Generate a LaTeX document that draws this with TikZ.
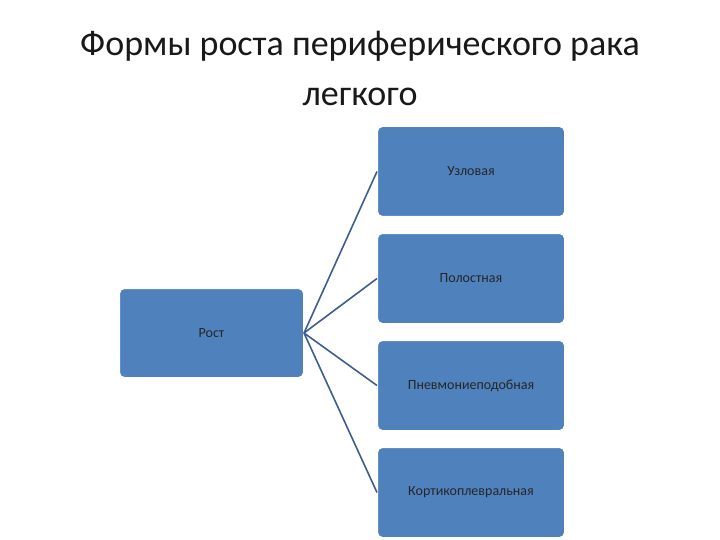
\documentclass[tikz,border=0pt]{standalone}
\usepackage{fontspec}
\setmainfont{Carlito}
\definecolor{boxblue}{HTML}{4F81BD}
\definecolor{linec}{HTML}{3D5E8E}
\begin{document}
\begin{tikzpicture}[x=1pt,y=-1pt,
  bx/.style={draw=white,line width=1pt,fill=boxblue,rounded corners=5pt,inner sep=0pt,font=\fontsize{14}{16}\selectfont,text=black!85},
  conn/.style={draw=linec,line width=1.6pt}]
\useasboundingbox[fill=white] (0,0) rectangle (720,540);
\node[font=\fontsize{36}{50}\selectfont,align=center,text=black!90] (title) at (360,68) {Формы роста периферического рака\\легкого};
\node[bx,minimum width=184,minimum height=89] (root) at (211.5,333) {Рост};
\node[bx,minimum width=187,minimum height=90] (a) at (471,171.5) {Узловая};
\node[bx,minimum width=187,minimum height=90] (b) at (471,278.5) {Полостная};
\node[bx,minimum width=187,minimum height=90] (c) at (471,385.5) {Пневмониеподобная};
\node[bx,minimum width=187,minimum height=90] (d) at (471,492.5) {Кортикоплевральная};
\foreach \t in {a,b,c,d} \draw[conn] (root.east) -- (\t.west);
\end{tikzpicture}
\end{document}
